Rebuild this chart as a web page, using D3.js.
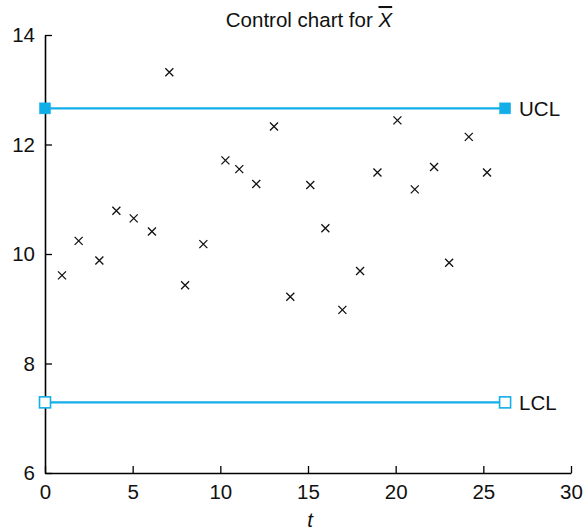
<!DOCTYPE html>
<html><head><meta charset="utf-8">
<script src="https://cdn.jsdelivr.net/npm/d3@7"></script>
<style>body{margin:0;background:#fff}svg{display:block;font-family:"Liberation Sans",Arial,sans-serif}</style>
</head><body><svg id="c" width="584" height="532"></svg>
<script>
const tValues = [0.97,1.92,3.10,4.07,5.06,6.10,7.09,7.99,9.03,10.29,11.08,12.05,13.06,13.99,15.13,15.99,16.96,17.97,18.96,20.10,21.09,22.19,23.05,24.17,25.21];
const xbarValues = [9.61,10.24,9.88,10.79,10.65,10.41,13.32,9.43,10.18,11.71,11.55,11.28,12.33,9.22,11.26,10.47,8.98,9.69,11.49,12.44,11.18,11.59,9.84,12.14,11.49];
const limitNames = ["UCL","LCL"];
const limitValues = [12.66, 7.29];
const limitRange = [0, 26.24];
const xTicks = [0,5,10,15,20,25,30];
const yTicks = [6,8,10,12,14];

const svg = d3.select("#c");
const x = d3.scaleLinear().domain([0,30]).range([45,571]);
const y = d3.scaleLinear().domain([6,14]).range([473,35]);
const blue = "#12aee8";
const fs = "20.5px";

// axes
const xa = svg.append("g").attr("transform","translate(0,473)")
  .call(d3.axisBottom(x).tickValues(xTicks).tickSize(-7).tickPadding(11).tickSizeOuter(0));
const ya = svg.append("g").attr("transform","translate(45,0)")
  .call(d3.axisLeft(y).tickValues(yTicks).tickSize(-7).tickPadding(10).tickSizeOuter(0));
[xa,ya].forEach(a=>{
  a.select(".domain").attr("stroke","#000").attr("stroke-width",1.6);
  a.selectAll(".tick line").attr("stroke","#000").attr("stroke-width",1.3);
  a.selectAll(".tick text").attr("fill","#111").style("font-size",fs).style("font-family","'Liberation Sans',Arial,sans-serif");
});

// control limits
limitNames.forEach((n,i)=>{
  const v = limitValues[i];
  svg.append("line").attr("x1",x(limitRange[0])).attr("x2",x(limitRange[1]))
    .attr("y1",y(v)).attr("y2",y(v)).attr("stroke",blue).attr("stroke-width",2.2);
  limitRange.forEach(t=>{
    svg.append("rect").attr("x",x(t)-5.5).attr("y",y(v)-5.5).attr("width",11).attr("height",11)
      .attr("fill", i===0 ? blue : "#fff").attr("stroke",blue).attr("stroke-width",i===0?0.5:1.6);
  });
  svg.append("text").attr("x",x(limitRange[1])+14).attr("y",y(v)+7.5)
    .attr("fill","#111").style("font-size",fs).text(n);
});

// points as x crosses
const s = 4;
svg.append("g").selectAll("path").data(tValues.map((t,i)=>[t,xbarValues[i]])).join("path")
  .attr("d",d=>{const cx=x(d[0]),cy=y(d[1]);return `M${cx-s},${cy-s}L${cx+s},${cy+s}M${cx-s},${cy+s}L${cx+s},${cy-s}`;})
  .attr("stroke","#111").attr("stroke-width",1.3).attr("fill","none");

// title
const title = svg.append("text").attr("x",309).attr("y",27).attr("text-anchor","middle")
  .attr("fill","#111").style("font-size",fs);
title.append("tspan").text("Control chart for ");
title.append("tspan").style("font-style","italic").style("text-decoration","overline").text("X");

// x label
svg.append("text").attr("x",310).attr("y",527).attr("text-anchor","middle")
  .style("font-style","italic").style("font-size",fs).attr("fill","#111").text("t");
</script></body></html>
